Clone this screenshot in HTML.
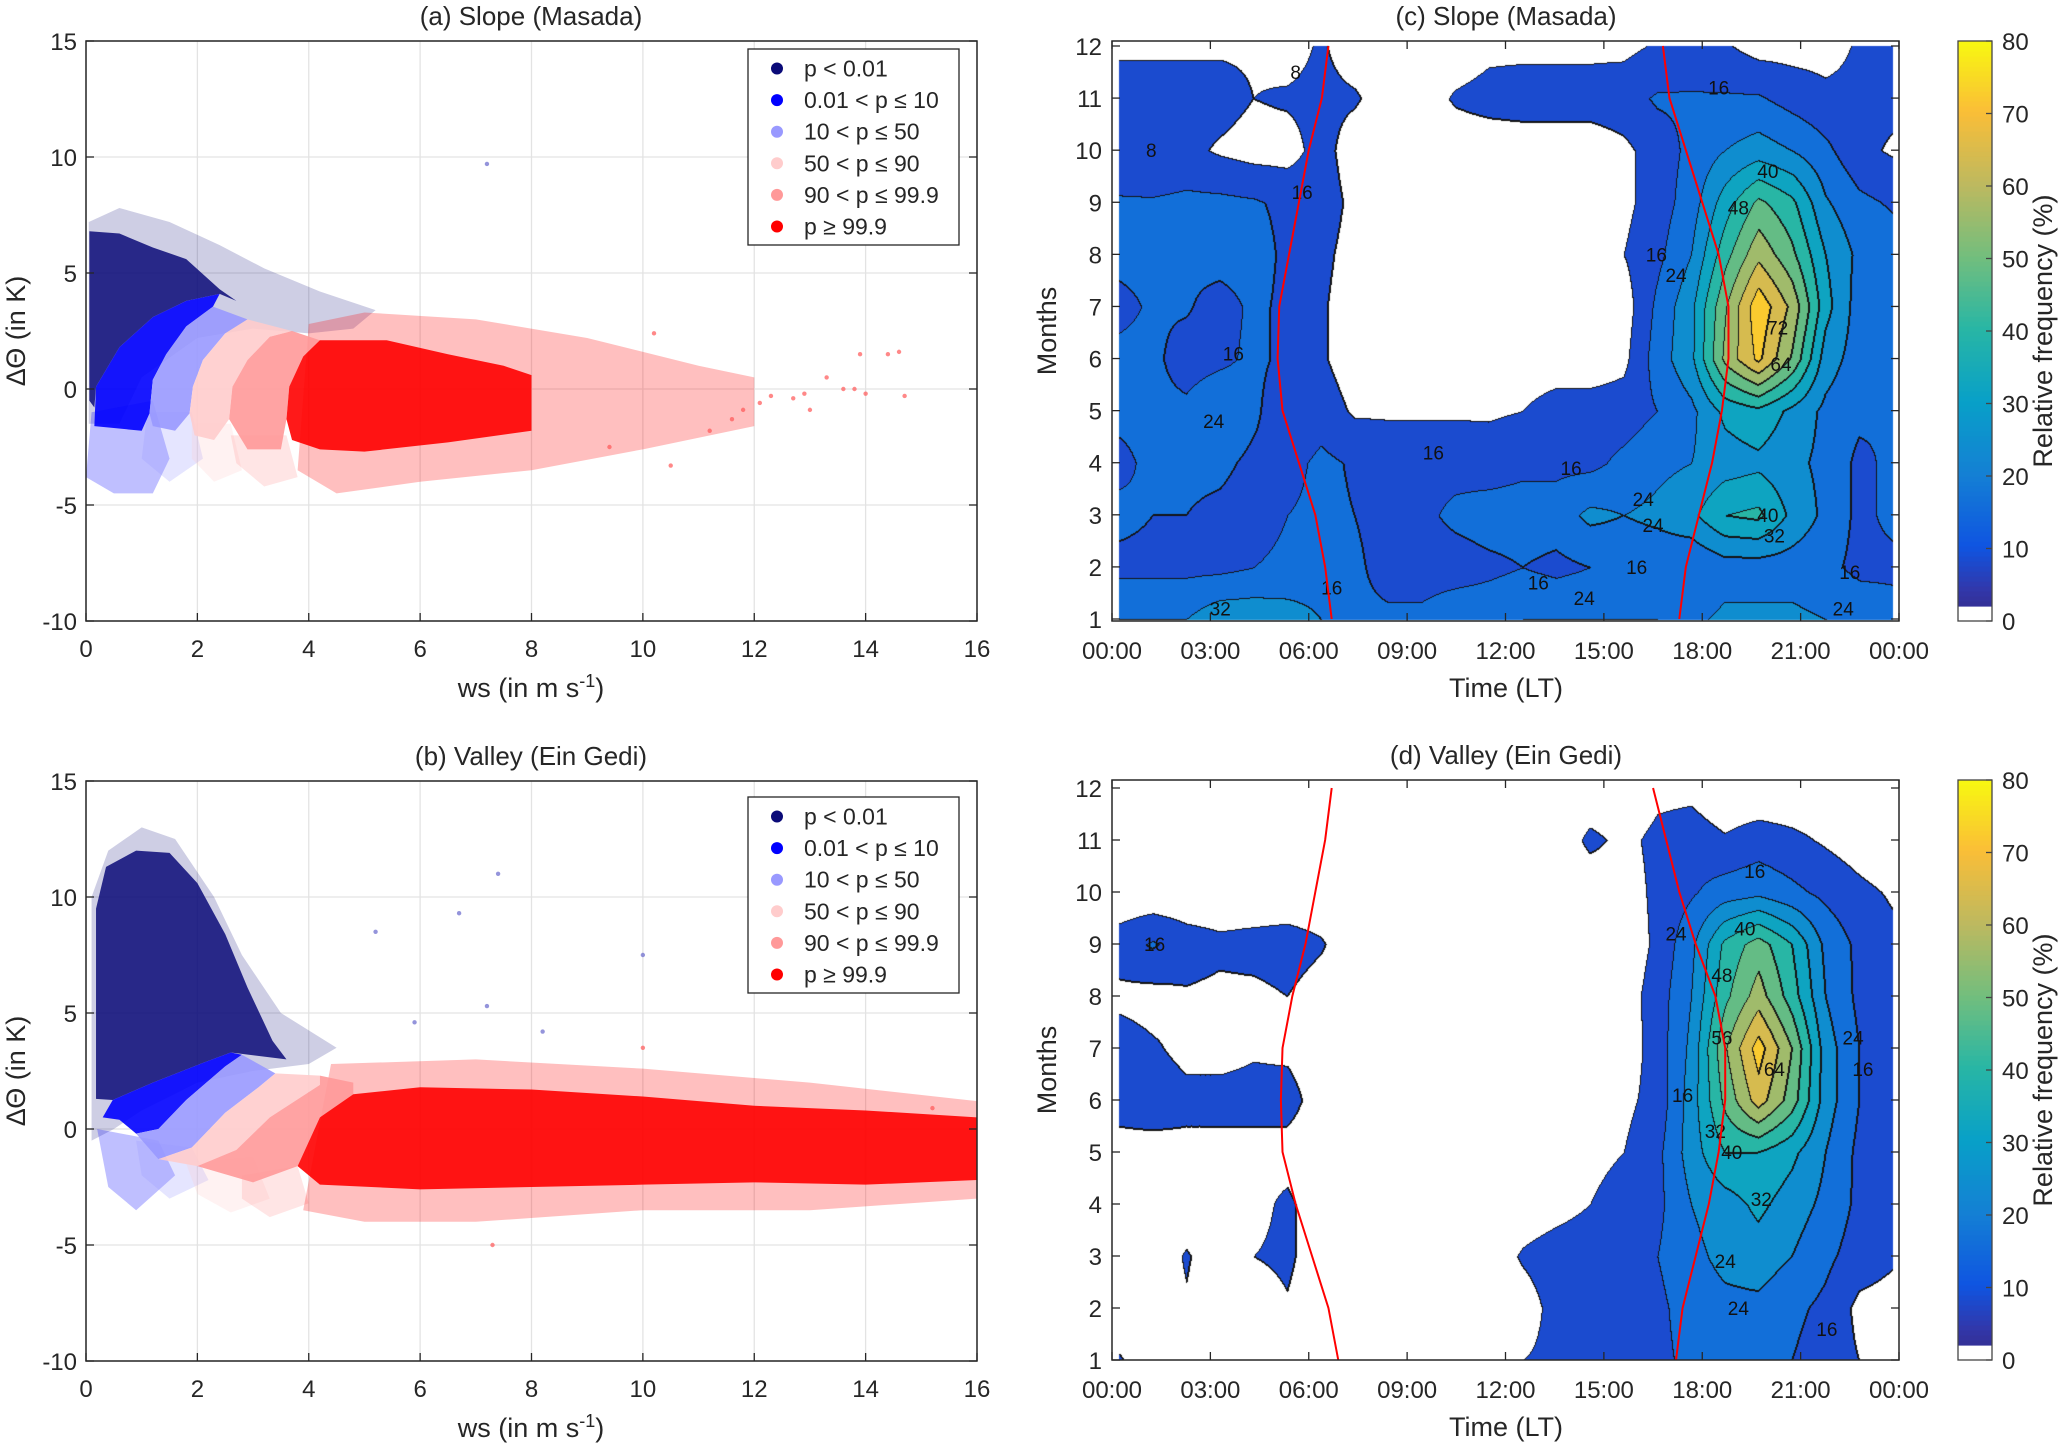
<!DOCTYPE html>
<html><head><meta charset="utf-8"><style>
html,body{margin:0;padding:0;background:#fff;}
body{width:2066px;height:1447px;position:relative;overflow:hidden;font-family:"Liberation Sans",sans-serif;}
canvas{position:absolute;}
svg{position:absolute;left:0;top:0;}
</style></head><body>
<canvas id="cv-c" width="787" height="580" style="left:1112px;top:41px"></canvas>
<canvas id="cv-d" width="787" height="580" style="left:1112px;top:780px"></canvas>
<svg id="svg" width="2066" height="1447" xmlns="http://www.w3.org/2000/svg"></svg>
<script>
// ---------- scatter data (polygons in data coords [ws, dTheta]) ----------
const classNames = ["p < 0.01","0.01 < p \u2264 10","10 < p \u2264 50","50 < p \u2264 90","90 < p \u2264 99.9","p \u2265 99.9"];
const classColors = ["#0a0a78","#0000ff","#9999ff","#ffcccc","#ff9999","#ff0000"];
const aHalo = [
 [[0.05,-1.5],[0.05,7.2],[0.6,7.8],[1.5,7.2],[2.4,6.2],[3.2,5.2],[4.2,4.2],[5.2,3.4],[4.8,2.6],[4,2.4],[3,2.6],[2,2.2],[1,0.5],[0.6,-1.5]],
 [[0.0,-3.8],[0.1,-1],[1.2,-0.5],[1.5,-3],[1.2,-4.5],[0.5,-4.5]],
 [[1.1,-1],[1.9,-1],[2.1,-3],[1.5,-4],[1.0,-3]],
 [[1.9,-1.5],[2.6,-1.5],[2.8,-3.5],[2.3,-4],[1.9,-3]],
 [[2.6,-2],[3.6,-2],[3.8,-3.8],[3.2,-4.2],[2.7,-3.2]],
 [[3.8,-3.5],[4,2.8],[5,3.3],[7,3],[9,2.2],[11,1],[12,0.5],[12,-1.6],[10,-2.6],[8,-3.5],[6,-4],[4.5,-4.5]]
];
const aCore = [
 [[0.06,-0.5],[0.06,6.8],[0.6,6.7],[1.2,6.1],[1.8,5.6],[2.4,4.3],[2.7,3.8],[2.4,4.1],[1.8,3.8],[1.2,3.1],[0.6,1.8],[0.18,0.1],[0.15,-0.8]],
 [[0.15,-1.6],[0.18,0.1],[0.6,1.8],[1.2,3.1],[1.8,3.8],[2.4,4.1],[2.28,3.55],[1.8,2.7],[1.44,1.5],[1.2,0.4],[1.14,-1.05],[1.0,-1.8]],
 [[1.14,-1.05],[1.2,0.4],[1.44,1.5],[1.8,2.7],[2.28,3.55],[2.9,3.0],[2.5,2.4],[2.1,1.25],[1.92,0.1],[1.86,-1.05],[1.6,-1.8],[1.2,-1.6]],
 [[1.86,-1.05],[1.92,0.1],[2.1,1.25],[2.5,2.4],[2.9,3.0],[3.7,2.5],[3.3,2.25],[2.9,1.25],[2.63,0.1],[2.57,-1.3],[2.3,-2.2],[1.95,-2]],
 [[2.57,-1.3],[2.63,0.1],[2.9,1.25],[3.3,2.25],[3.7,2.5],[4.2,2.1],[3.9,1.4],[3.65,0.1],[3.6,-1.3],[3.5,-2.6],[2.9,-2.6]],
 [[3.6,-1.3],[3.65,0.1],[3.9,1.4],[4.2,2.1],[5.4,2.1],[6.5,1.5],[7.5,1.0],[8,0.6],[8,-1.8],[6.5,-2.3],[5,-2.7],[4.2,-2.6],[3.7,-2.2]]
];
const aOutliers = [[12.3,-0.3],[12.7,-0.4],[13,-0.9],[13.3,0.5],[13.6,0],[13.8,0],[13.9,1.5],[14,-0.2],[14.6,1.6],[14.4,1.5],[12.9,-0.2],[11.8,-0.9],[11.6,-1.3],[10.2,2.4],[9.4,-2.5],[10.5,-3.3],[7.2,9.7],[11.2,-1.8],[12.1,-0.6],[14.7,-0.3]];
const bHalo = [
 [[0.1,-0.5],[0.1,10],[0.4,12],[1,13],[1.6,12.5],[2.3,10],[2.8,7.5],[3.5,5],[4.5,3.5],[4,2.8],[3,2.5],[2,2],[1,0.8],[0.5,0]],
 [[0.2,0],[1.3,-0.5],[1.6,-2],[0.9,-3.5],[0.4,-2.5]],
 [[0.9,-0.5],[1.9,-0.8],[2.2,-2.2],[1.5,-3],[1.0,-2]],
 [[1.8,-1.5],[3,-1.2],[3.3,-3],[2.6,-3.6],[2.0,-2.8]],
 [[2.8,-2],[3.8,-1.6],[4,-3.2],[3.3,-3.8],[2.8,-3]],
 [[3.9,-3.5],[4.4,2.8],[7,3],[10,2.6],[13,2],[16,1.2],[16,-3],[13,-3.5],[10,-3.5],[7,-4],[5,-4]]
];
const bCore = [
 [[0.18,1.3],[0.18,9.5],[0.36,11.3],[0.9,12.0],[1.5,11.9],[2.0,10.6],[2.5,8.4],[2.9,6.1],[3.35,3.8],[3.6,3.0],[2.6,3.3],[2.1,2.85],[1.2,2.0],[0.48,1.25]],
 [[0.48,1.25],[1.2,2.0],[2.1,2.85],[2.6,3.3],[2.8,3.2],[2.5,2.7],[1.8,1.25],[1.3,0],[0.9,-0.2],[0.6,0.4],[0.3,0.5]],
 [[0.9,-0.2],[1.3,0],[1.8,1.25],[2.5,2.7],[2.8,3.2],[3.4,2.4],[3.1,1.8],[2.5,0.7],[1.9,-0.8],[1.3,-1.3]],
 [[1.3,-1.3],[1.9,-0.8],[2.5,0.7],[3.1,1.8],[3.4,2.4],[4.2,2.3],[4.2,1.9],[3.3,0.5],[2.7,-0.9],[2.0,-1.6]],
 [[2.0,-1.6],[2.7,-0.9],[3.3,0.5],[4.2,1.9],[4.2,2.3],[4.8,2.0],[4.8,1.5],[4.2,0.5],[3.8,-1.6],[3.0,-2.3]],
 [[3.8,-1.6],[4.2,0.5],[4.8,1.5],[6,1.8],[8,1.7],[10,1.4],[12,1.0],[14,0.8],[16,0.5],[16,-2.2],[14,-2.4],[12,-2.3],[10,-2.4],[8,-2.5],[6,-2.6],[4.2,-2.4]]
];
const bOutliers = [[7.4,11],[6.7,9.3],[5.2,8.5],[10,7.5],[7.2,5.3],[5.9,4.6],[15.2,0.9],[8.2,4.2],[10,3.5],[7.3,-5]];
const xTicks = [0,2,4,6,8,10,12,14,16];
const yTicks = [15,10,5,0,-5,-10];

// ---------- contour data: rows = months 1..12, columns = hours 0..23 ----------
const months = [1,2,3,4,5,6,7,8,9,10,11,12];
const gridC = [
 [24,24,24,30,30,28,24,18,18,18,22,22,24,24,24,24,24,22,26,26,26,24,22,20],
 [14,14,14,14,16,18,20,18,12,12,12,14,16,14,16,18,18,16,20,20,20,18,14,14],
 [18,16,16,14,12,16,18,16,12,14,18,20,20,20,26,24,26,30,40,42,30,22,14,18],
 [14,18,18,18,14,13,18,15,13,13,13,12,14,14,14,18,22,24,28,30,26,22,14,18],
 [18,18,18,24,18,9,12,7,7,7,7,7,8,12,12,12,16,22,34,38,30,22,18,16],
 [18,18,12,14,18,14,9,4,3,3,3,3,3,3,3,6,20,30,58,74,55,28,20,16],
 [14,17,17,12,18,14,9,4,3,3,3,3,3,3,3,4,18,30,55,78,62,35,20,16],
 [18,18,18,20,20,14,10,5,3,3,3,3,3,3,3,8,14,24,45,62,50,32,22,20],
 [17,17,18,18,17,14,12,6,3,3,3,3,3,3,3,6,12,20,36,50,42,25,18,15],
 [10,8,10,7,5,5,11,4,3,3,3,3,3,3,3,6,12,18,24,28,24,18,10,7],
 [11,11,11,11,8,9,10,9,4,4,9,11,12,12,12,13,17,17,17,17,13,10,10,10],
 [7,7,7,7,7,5,9,4,3,3,3,6,6,6,6,6,9,10,9,5,5,5,9,9]
];
const gridD = [
 [9,2,2,2,2,2,2,2,2,2,2,2,8,10,12,12,14,18,20,20,16,12,8,2],
 [2,2,7,2,2,7,2,2,2,2,2,2,4,11,8,10,14,20,22,22,18,14,6,5],
 [2,2,9,2,8,10,2,3,2,2,2,3,9,12,13,12,16,22,26,28,24,18,12,9],
 [2,2,2,2,5,10,2,2,2,2,2,2,3,5,8,11,14,24,28,34,28,22,14,9],
 [6,5,6,5,5,4,2,2,2,2,2,2,2,2,6,8,14,28,40,40,34,24,14,9],
 [10,12,10,11,11,12,3,2,2,2,2,2,2,2,2,6,11,28,50,68,52,28,16,9],
 [12,9,6,5,7,6,2,2,2,2,2,2,2,2,2,3,12,26,55,76,56,28,16,10],
 [6,5,7,6,6,8,4,2,2,2,2,2,2,2,2,4,12,24,46,60,44,24,14,10],
 [12,17,12,10,11,12,9,2,2,2,2,2,2,2,2,2,10,22,42,52,40,22,14,10],
 [2,2,2,2,2,2,2,2,2,2,2,2,2,2,2,4,10,15,20,22,18,14,10,7],
 [2,2,2,2,2,2,2,2,2,2,2,2,2,2,10,6,10,12,9,12,10,7,4,2],
 [2,2,2,2,2,2,2,2,2,2,2,2,2,2,2,2,6,6,2,2,2,2,2,2]
];
const sunriseC = [6.7,6.5,6.2,5.7,5.2,5.05,5.1,5.4,5.7,6.0,6.4,6.6];
const sunsetC  = [17.3,17.5,17.9,18.3,18.6,18.8,18.8,18.5,18.0,17.5,17.0,16.8];
const sunriseD = [6.9,6.6,6.1,5.6,5.2,5.15,5.2,5.5,5.9,6.2,6.5,6.7];
const sunsetD  = [17.2,17.4,17.8,18.2,18.5,18.7,18.7,18.4,17.8,17.3,16.9,16.5];
const labelsC = [[8,1.2,10],[16,5.8,9.2],[16,3.7,6.1],[24,3.1,4.8],[16,9.8,4.2],[16,14,3.9],[24,16.2,3.3],[24,16.5,2.8],[40,20,3],[32,20.2,2.6],[16,16,2],[16,13,1.7],[24,14.4,1.4],[32,3.3,1.2],[16,6.7,1.6],[24,22.3,1.2],[16,22.5,1.9],[40,20,9.6],[48,19.1,8.9],[72,20.3,6.6],[64,20.4,5.9],[24,17.2,7.6],[16,16.6,8],[8,5.6,11.5],[16,18.5,11.2]];
const labelsD = [[16,19.6,10.4],[40,19.3,9.3],[48,18.6,8.4],[24,17.2,9.2],[56,18.6,7.2],[64,20.2,6.6],[24,22.6,7.2],[16,22.9,6.6],[16,17.4,6.1],[32,18.4,5.4],[40,18.9,5],[32,19.8,4.1],[24,18.7,2.9],[24,19.1,2],[16,21.8,1.6],[16,1.3,9]];
const levels = [8,16,24,32,40,48,56,64,72];
const hourTicks = ["00:00","03:00","06:00","09:00","12:00","15:00","18:00","21:00","00:00"];
const cbTicks = [0,10,20,30,40,50,60,70,80];

// ---------- helpers ----------
const NS="http://www.w3.org/2000/svg";
const svg=document.getElementById('svg');
function mk(tag,attrs,parent){const e=document.createElementNS(NS,tag);for(const k in attrs)e.setAttribute(k,attrs[k]);(parent||svg).appendChild(e);return e;}
function txt(s,x,y,size,anchor,parent,extra){const t=mk('text',Object.assign({x:x,y:y,'font-size':size,'text-anchor':anchor||'middle',fill:'#262626','font-family':'"Liberation Sans",sans-serif'},extra||{}),parent);t.textContent=s;return t;}

// ---------- scatter panels ----------
const SX0=86,SX1=977,SW=891;
function scatterPanel(key,top,halo,core,outl,title,legTop){
  const bottom=top+580;
  const xs=w=>SX0+w*SW/16, ys=d=>top+(15-d)*580/25;
  const g=mk('g',{});
  
  
  xTicks.forEach(v=>{const l=mk('line',{x1:xs(v),x2:xs(v),y1:top,y2:bottom,stroke:'#e3e3e3','stroke-width':1.3},g);
    });
  yTicks.forEach(v=>{const l=mk('line',{x1:SX0,x2:SX1,y1:ys(v),y2:ys(v),stroke:'#e3e3e3','stroke-width':1.3},g);
    });
  halo.forEach((poly,i)=>{const p=mk('polygon',{points:poly.map(q=>xs(q[0])+','+ys(q[1])).join(' '),fill:classColors[i],'fill-opacity':i==0?0.2:0.25},g);
    });
  core.forEach((poly,i)=>{const p=mk('polygon',{points:poly.map(q=>xs(q[0])+','+ys(q[1])).join(' '),fill:classColors[i],'fill-opacity':i==0?0.85:0.9},g);
    });
  outl.forEach(q=>{const c=mk('circle',{cx:xs(q[0]),cy:ys(q[1]),r:2.2,fill:q[1]>4?'#6666cc':'#ff5555','fill-opacity':0.7},g);
    });
  const fr=mk('rect',{x:SX0,y:top,width:SW,height:580,fill:'none',stroke:'#262626','stroke-width':1.5},g);
  
  xTicks.forEach(v=>{mk('line',{x1:xs(v),x2:xs(v),y1:bottom,y2:bottom-8,stroke:'#262626','stroke-width':1.3},g);
    const t=txt(String(v),xs(v),bottom+36,24,'middle',g);});
  yTicks.forEach(v=>{mk('line',{x1:SX0,x2:SX0+8,y1:ys(v),y2:ys(v),stroke:'#262626','stroke-width':1.3},g);
    mk('line',{x1:SX1,x2:SX1-8,y1:ys(v),y2:ys(v),stroke:'#262626','stroke-width':1.3},g);
    const t=txt(String(v),SX0-9,ys(v)+9,24,'end',g);});
  const tt=txt(title,531,top-16,26,'middle',g);
  const xl=txt('',531,bottom+76,27,'middle',g);
  xl.innerHTML='ws (in m s<tspan dy="-10" font-size="18">-1</tspan><tspan dy="10">)</tspan>';
  const yl=txt('\u0394\u0398 (in K)',0,0,27,'middle',g,{transform:'translate(25,'+(top+290)+') rotate(-90)'});
  
  const lg=mk('g',{},g);
  
  mk('rect',{x:748,y:legTop,width:211,height:196,fill:'#fff',stroke:'#262626','stroke-width':1.3},lg);
  classNames.forEach((n,i)=>{const yy=legTop+19.5+i*31.6;
    const c=mk('circle',{cx:777,cy:yy,r:6,fill:classColors[i]},lg);
    
    const t=txt(n,804,yy+8,23,'start',lg);});
}
scatterPanel('a',41,aHalo,aCore,aOutliers,'(a) Slope (Masada)',49);
scatterPanel('b',781,bHalo,bCore,bOutliers,'(b) Valley (Ein Gedi)',797);

// ---------- colormap ----------
const cmStops=[[0,[53,42,135]],[0.05,[50,55,170]],[0.125,[15,85,225]],[0.25,[20,128,212]],[0.375,[8,160,200]],[0.5,[40,182,165]],[0.625,[115,190,125]],[0.75,[190,185,95]],[0.875,[250,190,55]],[1,[248,250,15]]];
function cmap(f){f=Math.max(0,Math.min(1,f));for(let i=1;i<cmStops.length;i++){if(f<=cmStops[i][0]){const a=cmStops[i-1],b=cmStops[i];const t=(f-a[0])/(b[0]-a[0]);return a[1].map((v,k)=>Math.round(v+(b[1][k]-v)*t));}}return cmStops[cmStops.length-1][1];}

// ---------- contour panels ----------
const CX0=1112,CW=787,H0=0.2,H1=23.8;
function interp(grid,h,m){
  let fi=(h-H0)/((H1-H0)/23), fj=m-1;
  let i=Math.min(22,Math.floor(fi)), j=Math.min(10,Math.floor(fj));
  const tx=fi-i, ty=fj-j;
  const a=grid[j][i],b=grid[j][i+1],c=grid[j+1][i],d=grid[j+1][i+1];
  return a*(1-tx)*(1-ty)+b*tx*(1-ty)+c*(1-tx)*ty+d*tx*ty;
}
function levelOf(v){let k=0;for(const L of levels)if(v>=L)k++;return k;}
function contourPanel(id,grid,top,yTop12,yBot1,sunrise,sunset,labels,title,key){
  const cv=document.getElementById(id),ctx=cv.getContext('2d');
  const W=cv.width,Hh=cv.height,img=ctx.createImageData(W,Hh);
  const lv=new Int8Array(W*Hh);
  for(let py=0;py<Hh;py++){const yAbs=top+py;const m=1+(yBot1-yAbs)/(yBot1-yTop12)*11;
    for(let px=0;px<W;px++){const h=px/CW*24;let k=-1;
      if(m>=1&&m<=12&&h>=H0&&h<=H1){k=levelOf(interp(grid,h,m));}
      lv[py*W+px]=k;}}
  for(let py=0;py<Hh;py++)for(let px=0;px<W;px++){const k=lv[py*W+px];let col;
    if(k<=0)col=[255,255,255];else col=cmap(levels[k-1]/80);
    const idx=py*W+px;
    if(k>=0){const l=px>0?lv[idx-1]:k,u=py>0?lv[idx-W]:k,r=px<W-1?lv[idx+1]:k,dn=py<Hh-1?lv[idx+W]:k;
      if((l>=0&&l!==k)||(u>=0&&u!==k)||(r>=0&&r!==k&&k>r)||(dn>=0&&dn!==k&&k>dn))col=[20,20,20];}
    img.data[idx*4]=col[0];img.data[idx*4+1]=col[1];img.data[idx*4+2]=col[2];img.data[idx*4+3]=255;}
  ctx.putImageData(img,0,0);
  const xs=h=>CX0+h/24*CW, ys=m=>yBot1-(m-1)/11*(yBot1-yTop12);
  const g=mk('g',{});
  
  
  labels.forEach(L=>{const t=txt(String(L[0]),xs(L[1]),ys(L[2])+7,19,'middle',g,{fill:'#111'});
    });
  const sr=mk('polyline',{points:sunrise.map((h,i)=>xs(h)+','+ys(months[i])).join(' '),fill:'none',stroke:'#ff0000','stroke-width':2},g);
  
  const ss=mk('polyline',{points:sunset.map((h,i)=>xs(h)+','+ys(months[i])).join(' '),fill:'none',stroke:'#ff0000','stroke-width':2},g);
  
  const fr=mk('rect',{x:CX0,y:top,width:CW,height:580,fill:'none',stroke:'#262626','stroke-width':1.5},g);
  
  hourTicks.forEach((s,i)=>{const x=xs(i*3);mk('line',{x1:x,x2:x,y1:top+580,y2:top+572,stroke:'#262626','stroke-width':1.3},g);
    mk('line',{x1:x,x2:x,y1:top,y2:top+8,stroke:'#262626','stroke-width':1.3},g);
    const t=txt(s,x,top+618,24,'middle',g);});
  months.forEach(m=>{const y=ys(m);mk('line',{x1:CX0,x2:CX0+8,y1:y,y2:y,stroke:'#262626','stroke-width':1.3},g);
    mk('line',{x1:CX0+CW,x2:CX0+CW-8,y1:y,y2:y,stroke:'#262626','stroke-width':1.3},g);
    const t=txt(String(m),CX0-10,y+9,24,'end',g);});
  const tt=txt(title,1506,top-16,26,'middle',g);
  const xl=txt('Time (LT)',1506,top+656,27,'middle',g);
  const yl=txt('Months',0,0,27,'middle',g,{transform:'translate(1056,'+(top+290)+') rotate(-90)'});
  
  const cb=mk('g',{},g);
  
  const cbx=1958,cbw=34,cbt=top,cbh=580;
  for(let i=0;i<116;i++){const v0=i/116*80;const c=v0<1.5?[255,255,255]:cmap(v0/80);
    mk('rect',{x:cbx,y:cbt+cbh-(i+1)*cbh/116,width:cbw,height:cbh/116+0.6,fill:'rgb('+c.join(',')+')'},cb);}
  mk('rect',{x:cbx,y:cbt,width:cbw,height:cbh,fill:'none',stroke:'#444','stroke-width':1.3},cb);
  cbTicks.forEach(v=>{const y=cbt+cbh-v/80*cbh;mk('line',{x1:cbx+cbw,x2:cbx+cbw-6,y1:y,y2:y,stroke:'#444','stroke-width':1.3},cb);
    const t=txt(String(v),cbx+cbw+10,y+9,24,'start',cb);});
  const cl=txt('Relative frequency (%)',0,0,27,'middle',cb,{transform:'translate(2052,'+(top+290)+') rotate(-90)'});
  
}
contourPanel('cv-c',gridC,41,46,619,sunriseC,sunsetC,labelsC,'(c) Slope (Masada)','c');
contourPanel('cv-d',gridD,780,788,1360,sunriseD,sunsetD,labelsD,'(d) Valley (Ein Gedi)','d');
</script>
</body></html>
